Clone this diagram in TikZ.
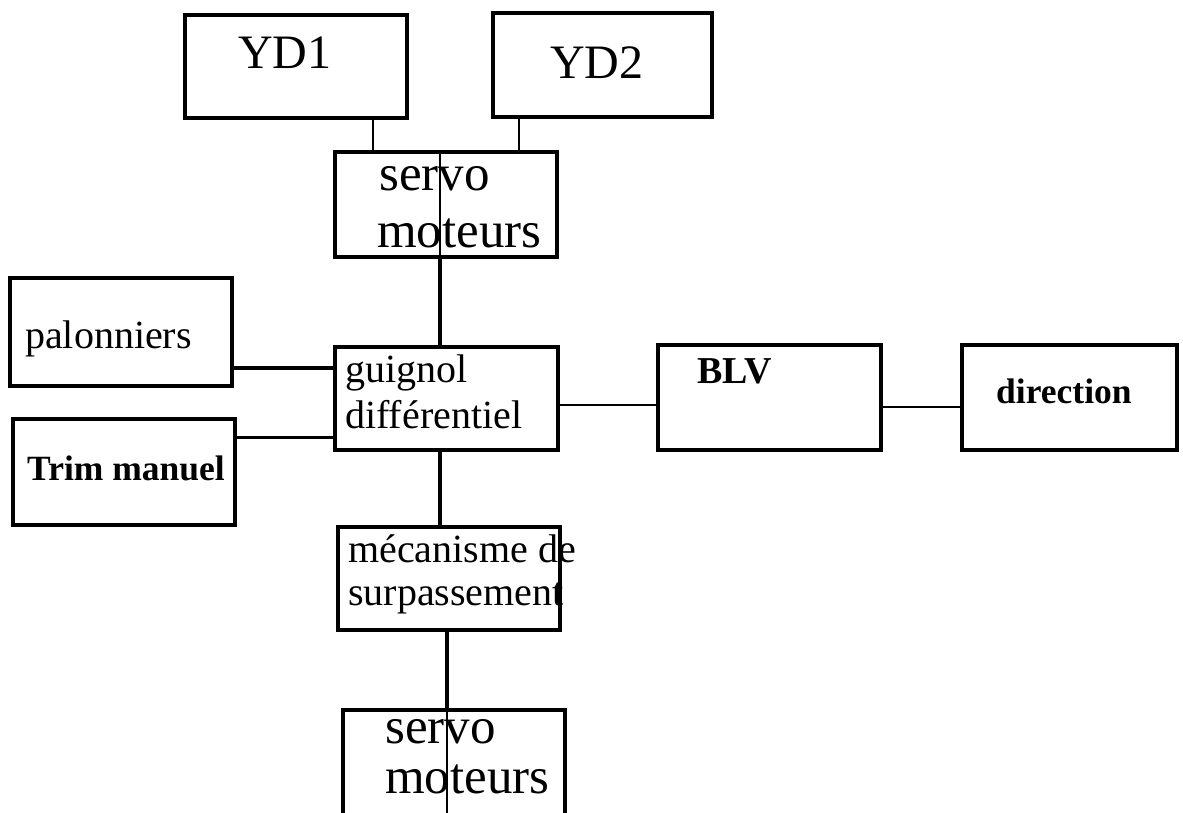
\documentclass[tikz,border=0pt]{standalone}
\usepackage{fontspec}
\setmainfont{Liberation Serif}
\begin{document}
\begin{tikzpicture}[x=1pt,y=-1pt,
  box/.style={draw, line width=3.5pt, inner sep=0pt},
  lbl/.style={inner sep=0pt, anchor=base west},
  ydf/.style={font=\fontsize{48}{48}\selectfont},
  big/.style={font=\fontsize{51}{51}\selectfont},
  mid/.style={font=\fontsize{40}{40}\selectfont},
  bld/.style={font=\fontsize{35.5}{36}\selectfont\bfseries},
  thinlink/.style={line width=2.5pt},
  thicklink/.style={line width=4pt},
  hair/.style={line width=1.5pt}]
\useasboundingbox (0,0) rectangle (1183,812);
\clip (0,0) rectangle (1183,812);
% boxes
\node[box, minimum width=222pt, minimum height=103pt] (yd1) at (296,66.5) {};
\node[box, minimum width=219pt, minimum height=104pt] (yd2) at (602.5,65) {};
\node[box, minimum width=222pt, minimum height=105pt] (servoA) at (446,204.5) {};
\node[box, minimum width=222pt, minimum height=108pt] (palon) at (121,332) {};
\node[box, minimum width=222pt, minimum height=106pt] (trim) at (124,472) {};
\node[box, minimum width=223pt, minimum height=103pt] (guig) at (446.5,398.5) {};
\node[box, minimum width=223pt, minimum height=105pt] (blv) at (769.5,397.5) {};
\node[box, minimum width=215pt, minimum height=105pt] (dir) at (1069.5,397.5) {};
\node[box, minimum width=222pt, minimum height=103pt] (meca) at (449,578.5) {};
\node[box, minimum width=222pt, minimum height=105pt] (servoB) at (454,762.5) {};
% labels
\node[lbl, ydf] (yd1t) at (238,68) {YD1};
\node[lbl, ydf] (yd2t) at (550,78) {YD2};
\node[lbl, big] (servoAt1) at (379,190) {servo};
\node[lbl, big] (servoAt2) at (377,247) {moteurs};
\node[lbl, mid] (palont) at (25,348) {palonniers};
\node[lbl, bld] (trimt) at (27,480) {Trim manuel};
\node[lbl, mid] (guigt1) at (345,382) {guignol};
\node[lbl, mid] (guigt2) at (345,428) {différentiel};
\node[lbl, font=\fontsize{38}{38}\selectfont\bfseries] (blvt) at (697,383) {BLV};
\node[lbl, bld] (dirt) at (996,403) {direction};
\node[lbl, mid] (mecat1) at (348,562) {mécanisme de};
\node[lbl, mid] (mecat2) at (348,605) {surpassement};
\node[lbl, big] (servoBt1) at (385,743) {servo};
\node[lbl, big] (servoBt2) at (385,793) {moteurs};
% x / y references for connectors
\coordinate (x1) at (373,0);
\coordinate (x2) at (519,0);
\coordinate (x3) at (440,0);
\coordinate (x4) at (447,0);
\coordinate (y1) at (0,368);
\coordinate (y2) at (0,437);
\coordinate (y3) at (0,405);
\coordinate (y4) at (0,407);
% connectors
\draw[thinlink] (yd1.south -| x1) -- (servoA.north -| x1);
\draw[thinlink] (yd2.south -| x2) -- (servoA.north -| x2);
\draw[hair] (servoA.north -| x3) -- (servoA.south -| x3);
\draw[thicklink] (servoA.south -| x3) -- (guig.north -| x3);
\draw[thicklink] (palon.east |- y1) -- (guig.west |- y1);
\draw[line width=3pt] (trim.east |- y2) -- (guig.west |- y2);
\draw[thinlink] (guig.east |- y3) -- (blv.west |- y3);
\draw[thinlink] (blv.east |- y4) -- (dir.west |- y4);
\draw[thicklink] (guig.south -| x3) -- (meca.north -| x3);
\draw[thicklink] (meca.south -| x4) -- (servoB.north -| x4);
\draw[hair] (servoB.north -| x4) -- (servoB.south -| x4);
\end{tikzpicture}
\end{document}
